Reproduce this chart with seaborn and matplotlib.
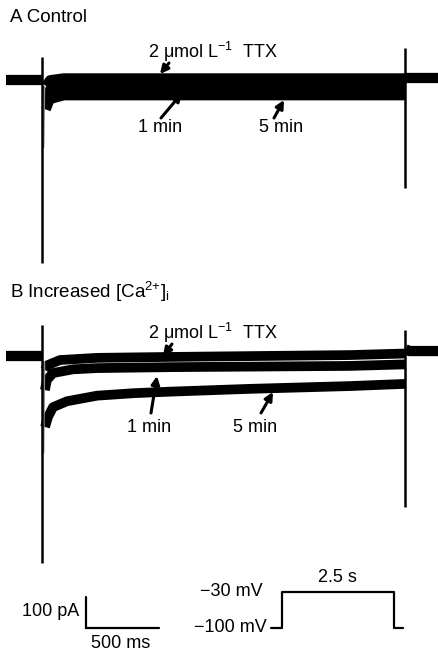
import numpy as np
import pandas as pd
import matplotlib
matplotlib.use("Agg")
import matplotlib.pyplot as plt
import seaborn as sns

# ---------------- data ----------------
# time in ms relative to step onset, current in pA relative to holding current
step_len_ms = 2500

# Panel A (control)
a_pre_t = [-250, -3]
a_pre_i = [0, 0]
a_post_t = [2503, 2740]
a_post_i = [6, 6]
a_ttx_t = [27, 55, 150, 2500]
a_ttx_i = [-19, 0, 6, 6]
a_1min_t = [27, 55, 150, 2500]
a_1min_i = [-62, -30, -22, -22]
a_5min_t = [27, 55, 150, 2500]
a_5min_i = [-95, -62, -50, -50]
a_fast_t = [8, 14]
a_fast_i = [-216, -23]
a_on_transient = [74, -590]
a_off_transient = [103, -348]

# Panel B (increased [Ca2+]i)
b_pre_t = [-250, -3]
b_pre_i = [0, 0]
b_post_t = [2503, 2530, 2740]
b_post_i = [22, 16, 16]
b_ttx_t = [20, 41, 124, 379, 882, 2121, 2500]
b_ttx_i = [-45, -29, -13, -6, -3, 3, 8]
b_1min_t = [20, 34, 76, 213, 379, 882, 2121, 2500]
b_1min_i = [-110, -77, -55, -43, -39, -36, -32, -27]
b_5min_t = [21, 41, 76, 172, 379, 630, 882, 1430, 2121, 2500]
b_5min_i = [-229, -197, -165, -146, -128, -120, -115, -106, -97, -90]
b_fast_t = [8, 14]
b_fast_i = [-310, -20]
b_on_transient = [100, -668]
b_off_transient = [84, -487]

# scale bars
scale_t_ms = 500
scale_i_pA = 100
scale_t0 = 303

# voltage protocol (schematic)
prot_t = [-250, 0, 0, 2500, 2500, 2700]
prot_v = [-100, -100, -30, -30, -100, -100]

# ---------------- figure ----------------
sns.set_theme(style="white")
plt.rcParams['font.family'] = ['Liberation Sans', 'DejaVu Sans']
plt.rcParams['mathtext.fontset'] = 'custom'
plt.rcParams['mathtext.rm'] = 'Liberation Sans'
plt.rcParams['mathtext.it'] = 'Liberation Sans:italic'
plt.rcParams['mathtext.bf'] = 'Liberation Sans:bold'

W, H = 439, 653
fig = plt.figure(figsize=(W / 100, H / 100), dpi=100)
fig.patch.set_facecolor('white')

px_per_ms = 0.1452
px_per_pA = 0.31
x_step = 42
TRACE_LW = 7.0


def px_axes(x0, y0, x1, y1):
    ax = fig.add_axes([x0 / W, 1 - y1 / H, (x1 - x0) / W, (y1 - y0) / H])
    ax.set_axis_off()
    return ax


def trace_axes(y_top, y_bot, y_zero):
    ax = px_axes(0, y_top, W, y_bot)
    ax.set_xlim((0 - x_step) / px_per_ms, (W - x_step) / px_per_ms)
    ax.set_ylim(-(y_bot - y_zero) / px_per_pA, (y_zero - y_top) / px_per_pA)
    return ax


def draw_panel(ax, pre, post, traces, fast, on_tr, off_tr):
    rows = []
    for name, (t, i) in traces.items():
        for tt, ii in zip(t, i):
            rows.append((name, tt, ii))
    df = pd.DataFrame(rows, columns=['trace', 't', 'i'])
    sns.lineplot(data=df, x='t', y='i', hue='trace', units='trace', estimator=None,
                 palette=['black'] * len(traces), lw=TRACE_LW, legend=False, ax=ax,
                 solid_capstyle='butt', solid_joinstyle='round')
    for t, i in (pre, post):
        sns.lineplot(x=t, y=i, color='black', lw=TRACE_LW + 0.4, ax=ax,
                     estimator=None, solid_capstyle='butt')
    sns.lineplot(x=fast[0], y=fast[1], color='#8c8c8c', lw=1.8, ax=ax,
                 estimator=None, sort=False)
    ax.vlines(0, on_tr[1], on_tr[0], color='black', lw=1.8)
    ax.vlines(step_len_ms, off_tr[1], off_tr[0], color='black', lw=1.8)
    ax.set_axis_off()


axA = trace_axes(40, 275, 80)
draw_panel(axA, (a_pre_t, a_pre_i), (a_post_t, a_post_i),
           {'TTX': (a_ttx_t, a_ttx_i), '1 min': (a_1min_t, a_1min_i),
            '5 min': (a_5min_t, a_5min_i)},
           (a_fast_t, a_fast_i), a_on_transient, a_off_transient)

axB = trace_axes(300, 575, 356)
draw_panel(axB, (b_pre_t, b_pre_i), (b_post_t, b_post_i),
           {'TTX': (b_ttx_t, b_ttx_i), '1 min': (b_1min_t, b_1min_i),
            '5 min': (b_5min_t, b_5min_i)},
           (b_fast_t, b_fast_i), b_on_transient, b_off_transient)

# scale bar
axS = trace_axes(560, 653, 628)
axS.plot([scale_t0, scale_t0, scale_t0 + scale_t_ms], [scale_i_pA, 0, 0],
         color='black', lw=1.6, solid_joinstyle='miter')

# voltage protocol
axP = px_axes(265, 570, 410, 640)
axP.set_xlim(-384, 2856)
axP.set_ylim(-123.3, 12.8)
sns.lineplot(x=prot_t, y=prot_v, color='black', lw=1.6, ax=axP,
             estimator=None, sort=False)
axP.set_axis_off()

# ---------------- text ----------------
FS = 13


def ftext(x, y, s, ha='left', va='center', fs=FS):
    fig.text(x / W, 1 - y / H, s, ha=ha, va=va, fontsize=fs, color='black')


def arrow(tail, tip):
    fig.add_artist(matplotlib.patches.FancyArrowPatch(
        (tail[0] / W, 1 - tail[1] / H), (tip[0] / W, 1 - tip[1] / H),
        transform=fig.transFigure, arrowstyle='-|>', mutation_scale=12,
        lw=2.2, color='black', shrinkA=0, shrinkB=0))


ftext(10, 18, 'A Control', fs=13.5)
ftext(148, 52, r'2 μmol L$^{\mathrm{-1}}$  TTX')
ftext(138, 128, '1 min')
ftext(259, 128, '5 min')
arrow((169, 63), (160, 74))
arrow((161, 118), (182, 93))
arrow((274, 118), (284, 100))

ftext(10, 292, r'B Increased [Ca$^{\mathrm{2}{+}}$]$_{\mathrm{i}}$', fs=13.5)
ftext(148, 333, r'2 μmol L$^{\mathrm{-1}}$  TTX')
ftext(127, 427, '1 min')
ftext(233, 427, '5 min')
arrow((172, 344), (163, 356))
arrow((151, 413), (157, 376))
arrow((261, 413), (273, 392))

ftext(79, 611, '100 pA', ha='right')
ftext(121, 643, '500 ms', ha='center')
ftext(263, 592, '\u221230 mV', ha='right')
ftext(267, 627, '\u2212100 mV', ha='right')
ftext(337, 578, '2.5 s', ha='center')

fig.savefig('out.png', dpi=100, facecolor='white')
